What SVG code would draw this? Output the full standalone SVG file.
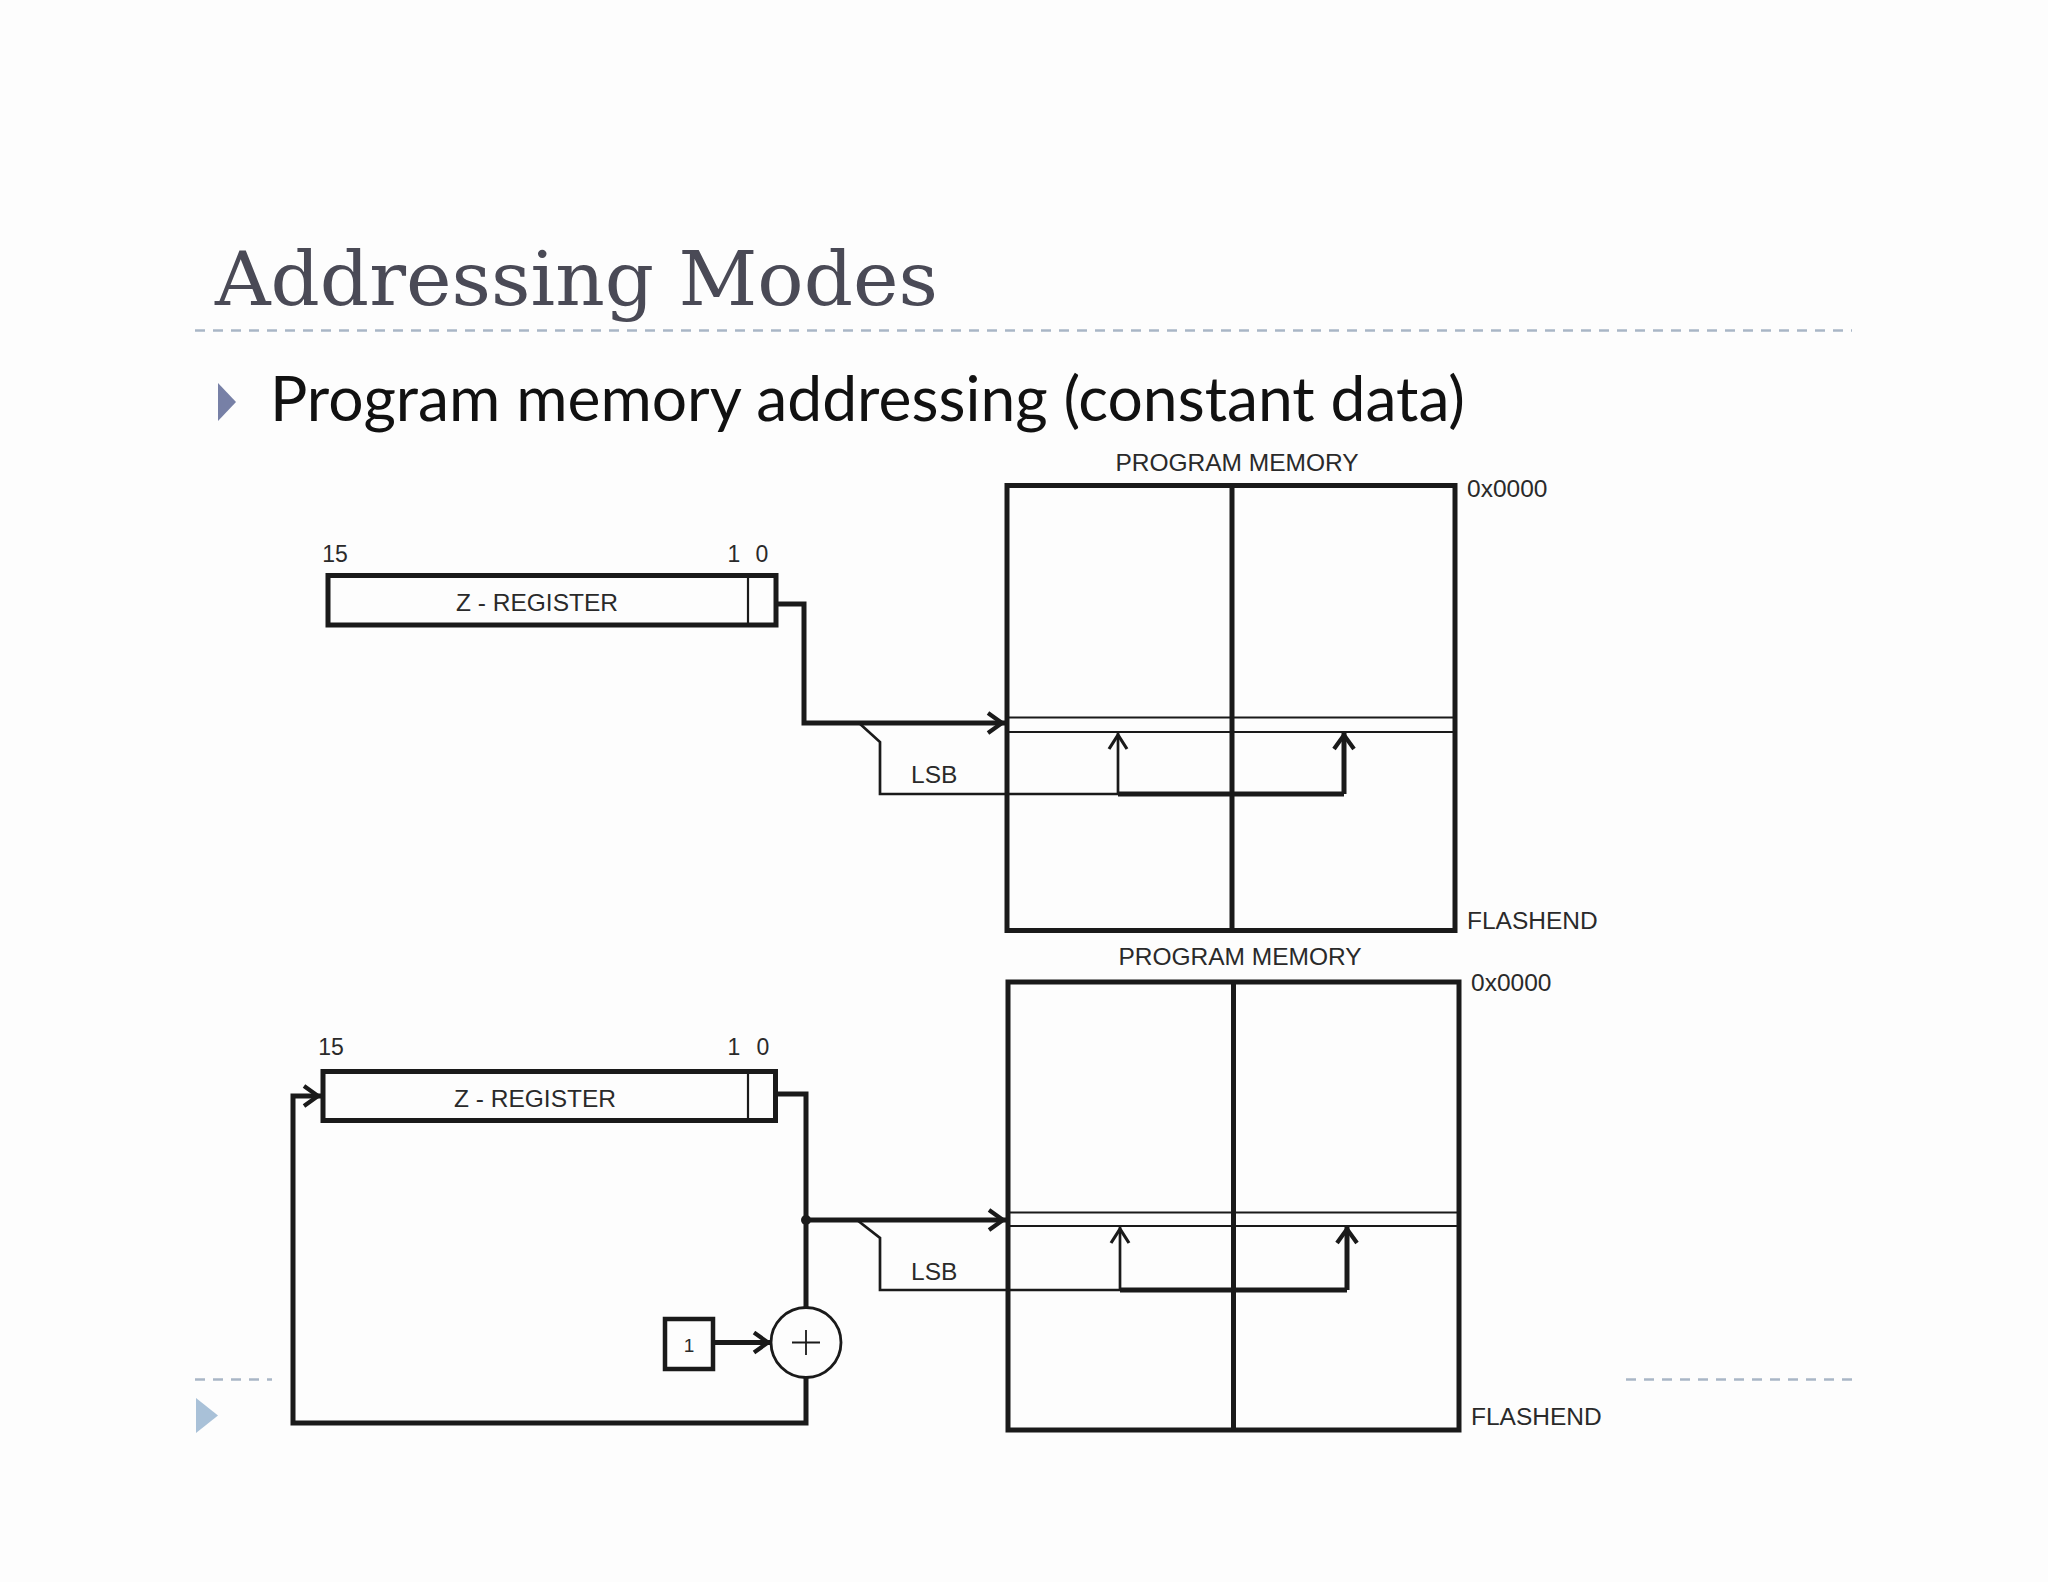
<svg xmlns="http://www.w3.org/2000/svg" width="2048" height="1582" viewBox="0 0 2048 1582">
  <style>
    .ln { fill: none; stroke: #1a1a1a; stroke-linejoin: miter; }
    .thick { stroke-width: 5; }
    .thin { stroke-width: 2.7; }
    .hair { stroke-width: 2.2; }
    .lbl { font-family: "Liberation Sans", Arial, sans-serif; font-size: 24.5px; fill: #2a2a2a; }
    .num { font-family: "Liberation Sans", Arial, sans-serif; font-size: 23px; fill: #2a2a2a; text-anchor: middle; }
    .dash { stroke: #a9b6c6; stroke-width: 2.6; stroke-dasharray: 10 8; fill: none; }
  </style>
  <defs>
    <marker id="arr" viewBox="0 0 24 24" refX="20" refY="12" markerWidth="24" markerHeight="24" markerUnits="userSpaceOnUse" orient="auto">
      <path d="M3,2 L17,12 L3,22" fill="none" stroke="#1a1a1a" stroke-width="4.2"/>
    </marker>
    <marker id="arrThin" viewBox="0 0 24 24" refX="20" refY="12" markerWidth="24" markerHeight="24" markerUnits="userSpaceOnUse" orient="auto">
      <path d="M3,3 L17,12 L3,21" fill="none" stroke="#1a1a1a" stroke-width="3.2"/>
    </marker>
  </defs>

  <rect x="0" y="0" width="2048" height="1582" fill="#fdfdfd"/>

  <!-- Slide header -->
  <g id="title">
    <text x="215" y="305" font-family="DejaVu Serif, 'Liberation Serif', serif" font-size="74" fill="#4a4a56" textLength="723" lengthAdjust="spacingAndGlyphs">Addressing Modes</text>
    <line class="dash" x1="195" y1="330.5" x2="1852" y2="330.5"/>
  </g>
  <g id="bullet">
    <polygon points="218,383 236,402 218,421" fill="#7780a6"/>
    <text x="270" y="421" font-family="Lato, 'Open Sans', sans-serif" font-size="62" fill="#111111" textLength="1195" lengthAdjust="spacingAndGlyphs">Program memory addressing (constant data)</text>
  </g>
  <g id="footer">
    <line class="dash" x1="195" y1="1379.5" x2="272" y2="1379.5"/>
    <line class="dash" x1="1626" y1="1379.5" x2="1852" y2="1379.5"/>
    <polygon points="196,1398 218,1415.5 196,1433" fill="#a9c1d8"/>
  </g>

  <!-- Top diagram -->
  <g id="zreg1">
    <text class="num" x="335" y="562">15</text>
    <text class="num" x="734" y="562">1</text>
    <text class="num" x="762" y="562">0</text>
    <rect class="ln thick" x="328" y="575.5" width="448" height="49.5" fill="#ffffff"/>
    <line class="ln hair" x1="748" y1="575.5" x2="748" y2="625"/>
    <text class="lbl" x="537" y="611" text-anchor="middle">Z - REGISTER</text>
  </g>
  <g id="mem1">
    <text class="lbl" x="1237" y="471" text-anchor="middle">PROGRAM MEMORY</text>
    <text class="lbl" x="1467" y="497">0x0000</text>
    <text class="lbl" x="1467" y="929">FLASHEND</text>
    <rect class="ln thick" x="1007" y="485.5" width="448" height="445"/>
    <line class="ln thick" x1="1232" y1="485.5" x2="1232" y2="930.5"/>
    <line class="ln hair" x1="1007" y1="717.5" x2="1455" y2="717.5"/>
    <line class="ln hair" x1="1007" y1="732" x2="1455" y2="732"/>
  </g>
  <g id="lsb1">
    <text class="lbl" x="911" y="783">LSB</text>
  </g>

  <!-- Bottom diagram -->
  <g id="zreg2">
    <text class="num" x="331" y="1055">15</text>
    <text class="num" x="734" y="1055">1</text>
    <text class="num" x="763" y="1055">0</text>
    <rect class="ln thick" x="323" y="1071.5" width="452.5" height="49" fill="#ffffff"/>
    <line class="ln hair" x1="748" y1="1071.5" x2="748" y2="1120.5"/>
    <text class="lbl" x="535" y="1107" text-anchor="middle">Z - REGISTER</text>
  </g>
  <g id="mem2">
    <text class="lbl" x="1240" y="965" text-anchor="middle">PROGRAM MEMORY</text>
    <text class="lbl" x="1471" y="991">0x0000</text>
    <text class="lbl" x="1471" y="1425">FLASHEND</text>
    <rect class="ln thick" x="1008" y="982" width="451" height="448"/>
    <line class="ln thick" x1="1233.5" y1="982" x2="1233.5" y2="1430"/>
    <line class="ln hair" x1="1008" y1="1212.5" x2="1459" y2="1212.5"/>
    <line class="ln hair" x1="1008" y1="1226" x2="1459" y2="1226"/>
  </g>
  <g id="lsb2">
    <text class="lbl" x="911" y="1280">LSB</text>
  </g>
  <g id="one">
    <rect class="ln" stroke-width="4.5" x="665" y="1319" width="48" height="50" fill="#ffffff"/>
    <text x="689" y="1352" text-anchor="middle" font-family="'Liberation Sans', Arial, sans-serif" font-size="19" fill="#2a2a2a">1</text>
  </g>
  <g id="adder">
    <circle class="ln" stroke-width="2.8" cx="806" cy="1342.5" r="35" fill="#ffffff"/>
    <path class="ln" stroke-width="1.8" d="M792,1342.5 H820 M806,1330 V1355"/>
  </g>

  <!-- Connectors -->
  <g id="connectors">
    <!-- top -->
    <path class="ln thick" d="M776,604 H804 V723 H1005" marker-end="url(#arr)"/>
    <path class="ln thin" d="M859,723 L880,742 V794 H1118"/>
    <path class="ln thick" d="M1118,794 H1344"/>
    <path class="ln thin" d="M1118,794 V732" marker-end="url(#arrThin)"/>
    <path class="ln thick" d="M1344,794 V732" marker-end="url(#arr)"/>
    <!-- bottom -->
    <path class="ln thick" d="M775,1094 H806 V1307.5"/>
    <circle cx="806" cy="1220" r="5" fill="#1a1a1a"/>
    <path class="ln thick" d="M806,1220 H1006" marker-end="url(#arr)"/>
    <path class="ln thin" d="M857,1220 L880,1238 V1290 H1120"/>
    <path class="ln thick" d="M1120,1290 H1347"/>
    <path class="ln thin" d="M1120,1290 V1226" marker-end="url(#arrThin)"/>
    <path class="ln thick" d="M1347,1290 V1226" marker-end="url(#arr)"/>
    <path class="ln thick" d="M713,1342.5 H771" marker-end="url(#arr)"/>
    <path class="ln thick" d="M806,1377.5 V1423 H293 V1096 H321" marker-end="url(#arr)"/>
  </g>
</svg>
